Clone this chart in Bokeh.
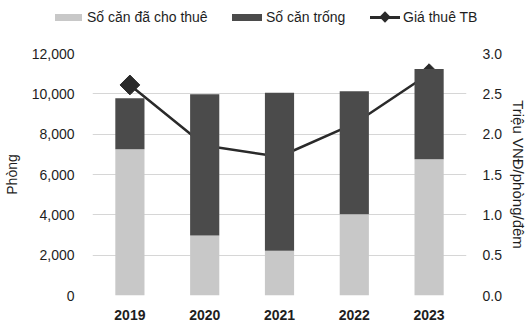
from bokeh.plotting import figure
from bokeh.layouts import column
from bokeh.models import (ColumnDataSource, Range1d, LinearAxis, Div,
                          NumeralTickFormatter, FactorRange, FixedTicker)
from bokeh.embed import file_html
from bokeh.resources import INLINE

years = ["2019", "2020", "2021", "2022", "2023"]
rented = [7250, 2980, 2220, 4030, 6760]        # Số căn đã cho thuê
vacant = [2530, 7000, 7830, 6100, 4470]        # Số căn trống
price = [2.61, 1.86, 1.72, 2.13, 2.75]         # Giá thuê TB (triệu VNĐ/phòng/đêm)
series_names = ["Số căn đã cho thuê", "Số căn trống", "Giá thuê TB"]

FONT = "Liberation Sans"
TXT = "#1e1e1e"
LIGHT = "#c8c8c8"
DARK = "#4b4b4b"
LINEC = "#2a2a2a"

src = ColumnDataSource(dict(year=years, rented=rented, vacant=vacant, price=price))

# ---------- legend strip (HTML) ----------
LEG_H = 36


def box(left, top, w, h, color, extra=""):
    return (f'<span style="position:absolute;left:{left}px;top:{top}px;width:{w}px;'
            f'height:{h}px;background:{color};{extra}"></span>')


def label(left, txt):
    return (f'<span style="position:absolute;left:{left}px;top:9px;line-height:17px;'
            f'white-space:nowrap">{txt}</span>')


html = (f'<div style="position:relative;width:529px;height:{LEG_H}px;'
        f'font-family:\'{FONT}\';font-size:14px;color:{TXT}">'
        + box(55, 14, 27, 7, LIGHT) + label(87, series_names[0])
        + box(232, 14, 30, 7, DARK) + label(266, series_names[1])
        + box(370, 16, 30, 3, LINEC)
        + box(381, 13, 8, 8, LINEC, "transform:rotate(45deg)")
        + label(403, series_names[2])
        + '</div>')
top = Div(text=html, width=529, height=LEG_H, margin=0)

# ---------- main chart ----------
p = figure(width=529, height=322 - LEG_H, x_range=FactorRange(*years, range_padding=0),
           y_range=Range1d(0, 12000), output_backend="svg", toolbar_location=None,
           min_border_left=88, min_border_right=55, min_border_top=53 - LEG_H,
           min_border_bottom=25)
p.extra_y_ranges = {"price": Range1d(0, 3)}
p.outline_line_color = None

# line drawn first so the bars lie on top of it
ln = p.line("year", "price", source=src, y_range_name="price", line_color=LINEC, line_width=2.5)
mk = p.scatter("year", "price", source=src, y_range_name="price", marker="square",
               size=14, angle=0.785, fill_color=LINEC, line_color=LINEC)

bars = p.vbar_stack(["rented", "vacant"], x="year", width=0.39, source=src,
                    color=[LIGHT, DARK], line_color=None)

p.yaxis.formatter = NumeralTickFormatter(format="0,0")
p.yaxis.ticker = FixedTicker(ticks=[0, 2000, 4000, 6000, 8000, 10000, 12000])
p.yaxis.axis_label = "Phòng"
right = LinearAxis(y_range_name="price", axis_label="Triệu VNĐ/phòng/đêm",
                   formatter=NumeralTickFormatter(format="0.0"),
                   ticker=FixedTicker(ticks=[0, 0.5, 1, 1.5, 2, 2.5, 3]))
p.add_layout(right, "right")

for ax in [p.xaxis[0], p.yaxis[0], right]:
    ax.axis_line_color = None
    ax.major_tick_line_color = None
    ax.minor_tick_line_color = None
    ax.major_label_text_font = FONT
    ax.major_label_text_font_size = "14px"
    ax.major_label_text_color = TXT
    ax.axis_label_text_font = FONT
    ax.axis_label_text_font_size = "14px"
    ax.axis_label_text_font_style = "normal"
    ax.axis_label_text_color = TXT
    ax.major_label_standoff = 12
    ax.axis_label_standoff = 9
right.major_label_standoff = 10
right.axis_label_standoff = 5
right.axis_label_text_font_size = "15px"
p.xaxis.major_label_text_font_style = "bold"
p.xaxis.major_label_standoff = 8
p.xgrid.grid_line_color = None
p.ygrid.grid_line_color = "#d6d6d6"
p.ygrid.grid_line_width = 1

layout = column(top, p, spacing=0)
open("out.html", "w").write(file_html(layout, INLINE))
